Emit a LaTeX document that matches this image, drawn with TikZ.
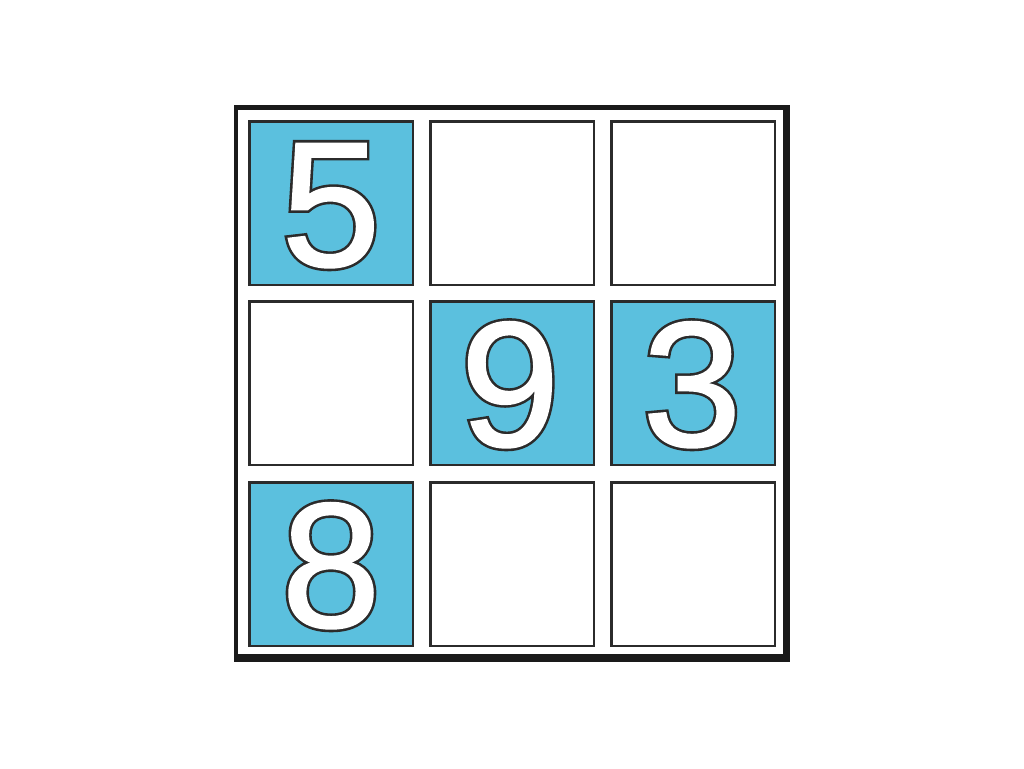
\documentclass[tikz,border=0pt]{standalone}
\usepackage{fontspec}
\setmainfont{Liberation Sans}
\newfontface\digitback[FakeBold=4]{Liberation Sans}
\newfontface\digitfront[FakeBold=1.1]{Liberation Sans}
\definecolor{cellblue}{HTML}{5BC0DE}
\definecolor{edge}{HTML}{2B2B2B}
\definecolor{frame}{HTML}{1A1A1A}
\begin{document}
\begin{tikzpicture}[x=1pt,y=-1pt,
  cell/.style={draw=edge, line width=2.5pt, minimum size=163.5pt, inner sep=0pt, fill=white},
  hot/.style={cell, fill=cellblue},
  digitshade/.style={anchor=base, inner sep=0pt, text=edge, font=\fontsize{178}{178}\digitback},
  digit/.style={anchor=base, inner sep=0pt, text=white, font=\fontsize{178}{178}\digitfront}]
\useasboundingbox (0,0) rectangle (1024,768);
\fill[frame] (234,105) rectangle (790,662);
\fill[white] (238,110) rectangle (783,654);
\node[hot]  (c11) at (331,203) {};
\node[cell] (c12) at (512,203) {};
\node[cell] (c13) at (693,203) {};
\node[cell] (c21) at (331,383) {};
\node[hot]  (c22) at (512,383) {};
\node[hot]  (c23) at (693,383) {};
\node[hot]  (c31) at (331,564) {};
\node[cell] (c32) at (512,564) {};
\node[cell] (c33) at (693,564) {};
\node[digitshade] (s5) at (331,266) {5};
\node[digitshade] (s9) at (510,446) {9};
\node[digitshade] (s3) at (692,446) {3};
\node[digitshade] (s8) at (331,627) {8};
\node[digit] (d5) at (s5.base) {5};
\node[digit] (d9) at (s9.base) {9};
\node[digit] (d3) at (s3.base) {3};
\node[digit] (d8) at (s8.base) {8};
\end{tikzpicture}
\end{document}
